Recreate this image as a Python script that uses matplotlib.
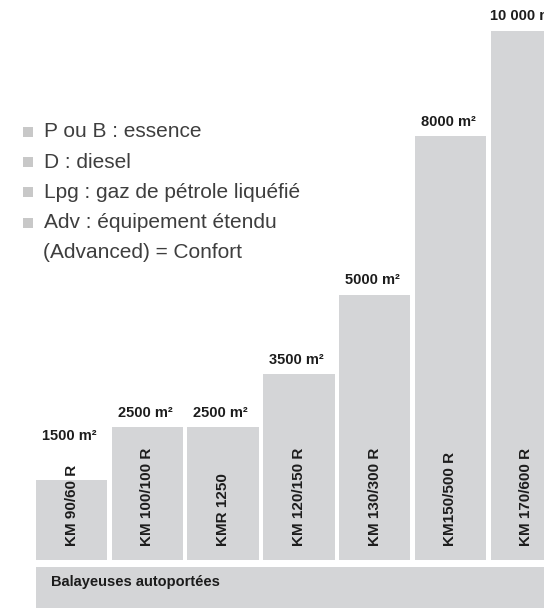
import matplotlib.pyplot as plt
from matplotlib.patches import Rectangle

plt.rcParams['font.family'] = ['Liberation Sans', 'DejaVu Sans']

# data
models = ['KM 90/60 R', 'KM 100/100 R', 'KMR 1250', 'KM 120/150 R',
          'KM 130/300 R', 'KM150/500 R', 'KM 170/600 R']
surface = [1500, 2500, 2500, 3500, 5000, 8000, 10000]
surface_labels = ['1500 m²', '2500 m²', '2500 m²', '3500 m²',
                  '5000 m²', '8000 m²', '10 000 m²']
legend_lines = ['P ou B : essence', 'D : diesel', 'Lpg : gaz de pétrole liquéfié',
                'Adv : équipement étendu', '(Advanced) = Confort']
category = 'Balayeuses autoportées'

W, H = 544, 608
bar_color = '#d4d5d7'
text_color = '#1c1c1c'

# pixel layout of the reference
step_px = 75.8        # distance between bar centres
width_px = 71.6       # bar width
first_center_px = 71.5
base_px = 48.5        # bar bottom, from figure bottom
px_per_unit = 0.0529  # vertical scale

fig = plt.figure(figsize=(W / 100, H / 100), dpi=100)
ax = fig.add_axes([0, 0, 1, 1])
ax.set_xlim(-first_center_px / step_px, (W - first_center_px) / step_px)
ax.set_ylim(-base_px / px_per_unit, (H - base_px) / px_per_unit)
ax.axis('off')

x = list(range(len(models)))
bw = width_px / step_px
ax.bar(x, surface, width=bw, color=bar_color, linewidth=0)

# model names, rotated inside bars
names = []
for i, m in enumerate(models):
    t = ax.annotate(m, xy=(i, 0), xytext=(0, 13 * 0.72), textcoords='offset points',
                    rotation=90, ha='center', va='bottom', fontsize=11,
                    fontweight='bold', color=text_color)
    names.append(t)

fig.canvas.draw()
r = fig.canvas.get_renderer()
for i, (v, lab) in enumerate(zip(surface, surface_labels)):
    bar_top = ax.transData.transform((i, v))[1]
    name_top = names[i].get_window_extent(r).y1
    y_px = max(bar_top, name_top + 15) + 10.5
    y = ax.transData.inverted().transform((0, y_px))[1]
    ax.text(i - 0.03, y, lab, ha='center', va='baseline', fontsize=10.5,
            fontweight='bold', color=text_color)

# category band under the bars
band = Rectangle((-bw / 2, 0), 10, 41.5 / H, transform=ax.get_xaxis_transform(),
                 color=bar_color, linewidth=0, clip_on=False)
ax.add_patch(band)
fig.text(50.7 / W, 22.3 / H, category, ha='left', va='baseline', fontsize=10.5,
         fontweight='bold', color=text_color)

# legend text on the left
for k, line in enumerate(legend_lines):
    base = 137.3 + 30.3 * k
    if k < 4:
        fig.patches.append(Rectangle((23.3 / W, 1 - (base - 0.5) / H), 10 / W, 10 / H,
                                     transform=fig.transFigure, color='#c8c8c8',
                                     linewidth=0))
        fig.text(44.3 / W, 1 - base / H, line, ha='left', va='baseline',
                 fontsize=15, color='#3e3e3e')
    else:
        fig.text(42.7 / W, 1 - base / H, line, ha='left', va='baseline',
                 fontsize=15, color='#3e3e3e')

fig.savefig('out.png', dpi=100)
